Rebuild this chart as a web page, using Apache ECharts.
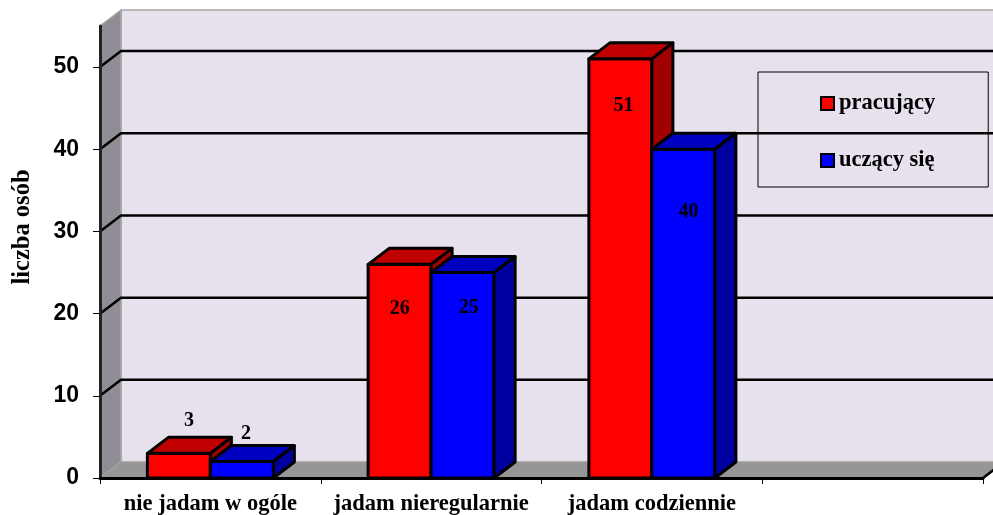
<!DOCTYPE html>
<html lang="pl">
<head>
<meta charset="utf-8">
<title>liczba osób</title>
<style>html,body{margin:0;padding:0;background:#fff}#chart{width:993px;height:515px}</style>
<script src="https://cdn.jsdelivr.net/npm/echarts@6/dist/echarts.min.js"></script>
</head>
<body>
<div id="chart"></div>
<script>
// Survey counts per eating habit
const categories = ['nie jadam w ogóle', 'jadam nieregularnie', 'jadam codziennie', ''];
const pracujacy = [3, 26, 51];
const uczacySie = [2, 25, 40];
const axisTicks = [0, 10, 20, 30, 40, 50];
const gridTicks = [10, 20, 30, 40, 50];

// Value-label nudges in pixels, relative to the default spot on each bar
const labelNudgeRed = [[10, 1], [0, 2], [3, 4]];
const labelNudgeBlue = [[4, 6], [6, -8], [5, 20]];

// Oblique projection of the pseudo-3D box
const DEPTH_X = 21, DEPTH_Y = 16;
const BAR_RATIO = 63 / 220.75;
const SERIF = '"Liberation Serif", "Times New Roman", serif';
const SANS = '"Liberation Sans", Arial, sans-serif';

const RED = { front: '#ff0000', top: '#c00000', side: '#a00000' };
const BLUE = { front: '#0000ff', top: '#0000c0', side: '#0000a0' };

const poly = (points, fill, stroke, width) => ({
  type: 'polygon',
  shape: { points },
  style: { fill, stroke, lineWidth: width, lineJoin: 'round' }
});

// Back wall, side wall, floor and the gridlines that wrap round them
function renderWalls(params, api) {
  const c = params.coordSys;
  const l = c.x, r = c.x + c.width, t = c.y, b = c.y + c.height;
  const edge = '#a6a6a6';
  const children = [
    poly([[l + DEPTH_X, t - DEPTH_Y], [r + DEPTH_X, t - DEPTH_Y], [r + DEPTH_X, b - DEPTH_Y], [l + DEPTH_X, b - DEPTH_Y]], '#e6e1ec', edge, 1.5),
    poly([[l, t], [l + DEPTH_X, t - DEPTH_Y], [l + DEPTH_X, b - DEPTH_Y], [l, b]], '#908d94', edge, 1.5),
    poly([[l, b], [l + DEPTH_X, b - DEPTH_Y], [r + DEPTH_X, b - DEPTH_Y], [r, b]], '#969696', edge, 1)
  ];
  gridTicks.forEach(function (v) {
    const y = api.coord([0, v])[1];
    children.push({
      type: 'polyline',
      shape: { points: [[l, y], [l + DEPTH_X, y - DEPTH_Y], [r + DEPTH_X, y - DEPTH_Y]] },
      style: { fill: null, stroke: '#000', lineWidth: 2.5 }
    });
  });
  children.push({
    type: 'line',
    shape: { x1: r, y1: b, x2: r + DEPTH_X, y2: b - DEPTH_Y },
    style: { stroke: '#000', lineWidth: 2.5 }
  });
  return { type: 'group', children };
}

// One pseudo-3D bar: front face, top and right side, with its value text
function makeBarRenderer(palette, side, nudges) {
  return function (params, api) {
    const idx = api.value(0), val = api.value(1);
    const tip = api.coord([idx, val]);
    const base = api.coord([idx, 0]);
    const w = api.size([1, 0])[0] * BAR_RATIO;
    const x0 = side < 0 ? tip[0] - w : tip[0];
    const x1 = x0 + w;
    const yT = tip[1], yB = base[1];
    const n = nudges[params.dataIndex];
    // Short bars carry the value above them, taller ones inside the front face
    const lx = (x0 + x1) / 2 + n[0];
    const ly = (val < 5 ? yT - 34 : yT + 43) + n[1];
    return {
      type: 'group',
      children: [
        poly([[x0, yT], [x1, yT], [x1, yB], [x0, yB]], palette.front, '#000', 3),
        poly([[x0, yT], [x0 + DEPTH_X, yT - DEPTH_Y], [x1 + DEPTH_X, yT - DEPTH_Y], [x1, yT]], palette.top, '#000', 3),
        poly([[x1, yT], [x1 + DEPTH_X, yT - DEPTH_Y], [x1 + DEPTH_X, yB - DEPTH_Y], [x1, yB]], palette.side, '#000', 3),
        {
          type: 'text',
          z2: 50,
          style: {
            x: lx, y: ly, text: String(val), align: 'center', verticalAlign: 'middle',
            font: 'bold 20px ' + SERIF, fill: '#000'
          }
        }
      ]
    };
  };
}

const toPoints = arr => arr.map((v, i) => [i, v]);
const chart = echarts.init(document.getElementById('chart'), null, { renderer: 'canvas' });

chart.setOption({
  animation: false,
  backgroundColor: '#ffffff',
  grid: { left: 100, right: 10, top: 26, bottom: 37, outerBoundsMode: 'none' },
  legend: {
    orient: 'vertical',
    left: 758,
    top: 72,
    padding: [20, 53, 15, 62],
    itemGap: 34,
    itemWidth: 13,
    itemHeight: 13,
    borderColor: '#000',
    borderWidth: 1,
    selectedMode: false,
    textStyle: { fontFamily: SERIF, fontWeight: 'bold', fontSize: 22.5, color: '#000' },
    data: [
      { name: 'pracujący', icon: 'rect', itemStyle: { color: RED.front, borderColor: '#000', borderWidth: 2 } },
      { name: 'uczący się', icon: 'rect', itemStyle: { color: BLUE.front, borderColor: '#000', borderWidth: 2 } }
    ]
  },
  xAxis: {
    type: 'category',
    data: categories,
    z: 5,
    axisLine: { lineStyle: { color: '#000', width: 3 } },
    axisTick: { show: true, length: 6, lineStyle: { color: '#000', width: 1 } },
    axisLabel: { interval: 0, margin: 15, fontFamily: SERIF, fontWeight: 'bold', fontSize: 22.5, color: '#000' },
    splitLine: { show: false }
  },
  yAxis: {
    type: 'value',
    min: 0,
    max: 55,
    interval: 10,
    z: 5,
    name: 'liczba osób',
    nameLocation: 'middle',
    nameRotate: 90,
    nameGap: 65,
    nameTextStyle: { fontFamily: SERIF, fontWeight: 'bold', fontSize: 24.5, color: '#000', padding: [0, 0, 0, 50] },
    axisLine: { show: true, lineStyle: { color: '#222', width: 3 } },
    axisTick: { show: true, length: 7, customValues: axisTicks, lineStyle: { color: '#000', width: 1 } },
    axisLabel: { margin: 21, customValues: axisTicks, fontFamily: SANS, fontWeight: 'bold', fontSize: 23, color: '#000' },
    splitLine: { show: false }
  },
  series: [
    { type: 'custom', name: 'walls', z: 1, silent: true, coordinateSystem: 'cartesian2d', renderItem: renderWalls, data: [[0, 0]], encode: { x: 0, y: 1 } },
    { type: 'custom', name: 'pracujący', z: 2, itemStyle: { color: RED.front }, renderItem: makeBarRenderer(RED, -1, labelNudgeRed), data: toPoints(pracujacy), encode: { x: 0, y: 1 } },
    { type: 'custom', name: 'uczący się', z: 3, itemStyle: { color: BLUE.front }, renderItem: makeBarRenderer(BLUE, 1, labelNudgeBlue), data: toPoints(uczacySie), encode: { x: 0, y: 1 } }
  ]
});
</script>
</body>
</html>
